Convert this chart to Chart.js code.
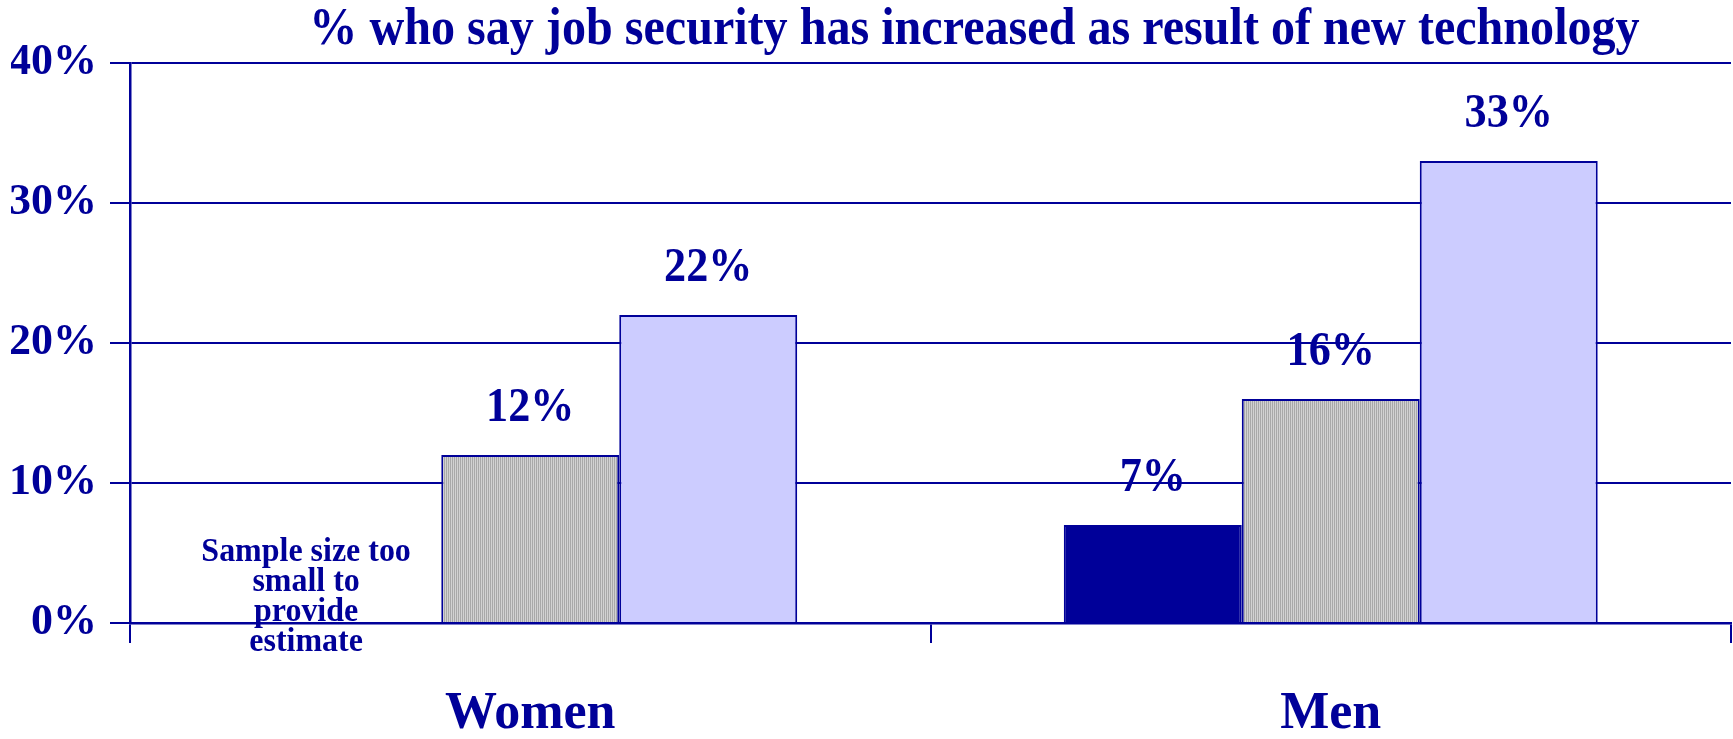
<!DOCTYPE html>
<html>
<head>
<meta charset="utf-8">
<script src="https://cdn.jsdelivr.net/npm/chart.js@4.4.0/dist/chart.umd.min.js"></script>
<style>
  html, body { margin: 0; padding: 0; background: #fff; }
  #wrap { width: 1733px; height: 739px; }
</style>
</head>
<body>
<div id="wrap"><canvas id="myChart"></canvas></div>
<script>
var categories = ['Women', 'Men'];
var series1 = [null, 7];
var series2 = [12, 16];
var series3 = [22, 33];
var yTicks = [0, 10, 20, 30, 40];
var chartTitle = '% who say job security has increased as result of new technology';
var noDataNote = ['Sample size too', 'small to', 'provide', 'estimate'];

var navy = '#000099';
var serif = '"Liberation Serif", "Times New Roman", serif';

// fine vertical grey stripes for the middle series
function stripes() {
   var c = document.createElement('canvas');
   c.width = 2;
   c.height = 2;
   var g = c.getContext('2d');
   g.fillStyle = '#d2d2d2';
   g.fillRect(0, 0, 2, 2);
   g.fillStyle = '#a8a8a8';
   g.fillRect(0, 0, 1, 2);
   return g.createPattern(c, 'repeat');
}

// bold serif text, slightly narrowed
function squeezed(ctx, text, px, py, size, sx) {
   ctx.save();
   ctx.font = 'bold ' + size + 'px ' + serif;
   ctx.fillStyle = navy;
   ctx.textAlign = 'center';
   ctx.textBaseline = 'middle';
   ctx.translate(px, py);
   ctx.scale(sx, 1);
   ctx.fillText(text, 0, 0);
   ctx.restore();
}

var textPlugin = {
   id: 'textPlugin',
   afterDraw: function(chart) {
      var ctx = chart.ctx;
      var area = chart.chartArea;
      var xs = chart.scales.x;
      var ys = chart.scales.y;

      squeezed(ctx, chartTitle, (area.left + area.right) / 2 + 44, area.top - 32, 52, 0.925);

      chart.data.datasets.forEach(function(ds, i) {
         var meta = chart.getDatasetMeta(i);
         meta.data.forEach(function(el, j) {
            var v = ds.data[j];
            if (v === null) return;
            squeezed(ctx, v + '%', el.x, el.y - 46, 48, 0.92);
         });
      });

      // note in place of the missing Women bar
      var cx = xs.getPixelForValue(0) - xs.width / categories.length * 0.28;
      var top = ys.getPixelForValue(0) - 71;
      noDataNote.forEach(function(line, k) {
         squeezed(ctx, line, cx, top + k * 30, 34, 0.94);
      });
   }
};

var ctx = document.getElementById('myChart').getContext('2d');
var chart = new Chart(ctx, {
   type: 'bar',
   data: {
      labels: categories,
      datasets: [{
         label: 'Series 1',
         data: series1,
         backgroundColor: navy,
         borderColor: navy,
         borderWidth: 2
      }, {
         label: 'Series 2',
         data: series2,
         backgroundColor: stripes(),
         borderColor: navy,
         borderWidth: 2
      }, {
         label: 'Series 3',
         data: series3,
         backgroundColor: '#ccccff',
         borderColor: navy,
         borderWidth: 2
      }]
   },
   options: {
      responsive: true,
      maintainAspectRatio: false,
      animation: false,
      layout: {
         padding: { left: 11, right: 2, top: 63, bottom: 0 }
      },
      datasets: {
         bar: { categoryPercentage: 0.667, barPercentage: 1 }
      },
      plugins: {
         legend: { display: false },
         title: { display: false },
         tooltip: { enabled: false }
      },
      scales: {
         x: {
            afterFit: function(scale) { scale.height = 116; },
            grid: {
               offset: true,
               drawOnChartArea: false,
               drawTicks: true,
               tickLength: 20,
               color: navy,
               lineWidth: 2
            },
            border: { color: navy, width: 2.5 },
            ticks: {
               color: navy,
               padding: 46,
               font: { family: serif, weight: 'bold', size: 52, lineHeight: 1 }
            }
         },
         y: {
            min: yTicks[0],
            max: yTicks[yTicks.length - 1],
            afterFit: function(scale) { scale.width = 119; },
            afterBuildTicks: function(scale) {
               scale.ticks = yTicks.map(function(v) { return { value: v }; });
            },
            grid: {
               color: navy,
               lineWidth: 2,
               tickLength: 20
            },
            border: { color: navy, width: 2.5 },
            ticks: {
               color: navy,
               padding: 13,
               font: { family: serif, weight: 'bold', size: 44, lineHeight: 1 },
               callback: function(v) { return v + '%'; }
            }
         }
      }
   },
   plugins: [textPlugin]
});
</script>
</body>
</html>
